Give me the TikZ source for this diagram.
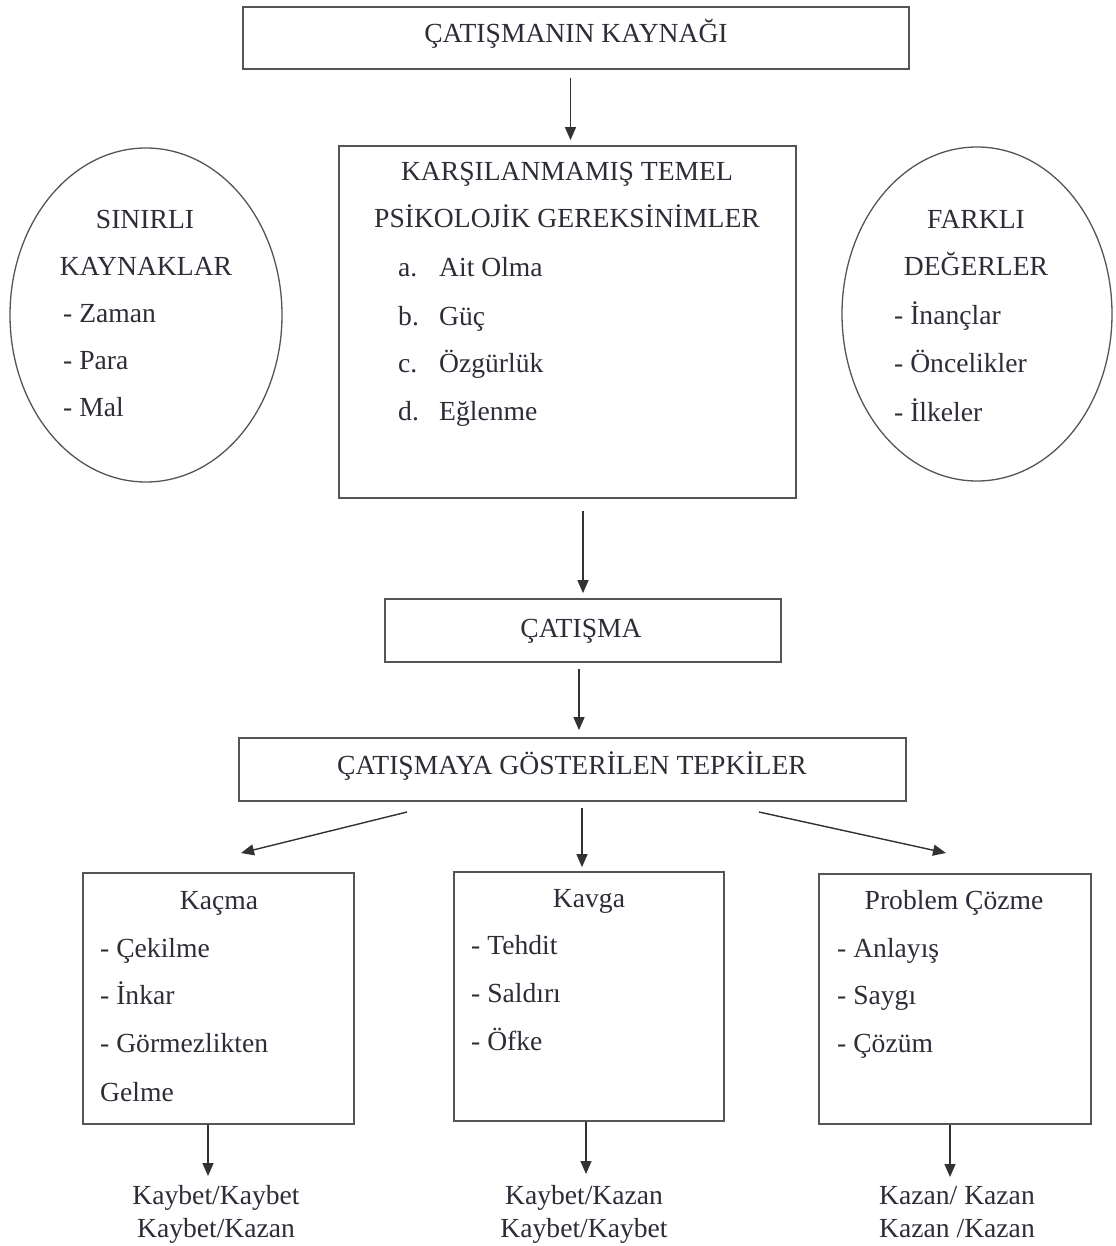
\documentclass[tikz,border=0pt]{standalone}
\usepackage{fontspec}
\setmainfont{Liberation Serif}
\usetikzlibrary{arrows.meta,shapes.geometric}
\definecolor{txtc}{RGB}{45,45,55}
\definecolor{boxc}{RGB}{85,85,85}
\definecolor{arrc}{RGB}{50,50,50}
\begin{document}
\begin{tikzpicture}[x=1pt,y=-1pt,
  box/.style={draw=boxc, line width=1.8pt, rectangle, inner sep=0pt, anchor=center},
  oval/.style={draw=boxc, line width=1.3pt, ellipse, inner sep=0pt, anchor=center},
  tx/.style={anchor=base, inner sep=0pt, text=txtc, font=\fontsize{27.6}{33}\selectfont},
  txl/.style={tx, anchor=base west},
  arr/.style={draw=arrc, line width=1.4pt, -{Triangle[length=13pt,width=11pt]}}
]
\useasboundingbox (0,0) rectangle (1115,1246);
\fill[white] (0,0) rectangle (1115,1246);

% shapes
\node[box, minimum width=666pt, minimum height=62pt] (b1) at (576,38) {};
\node[box, minimum width=457pt, minimum height=352pt] (b2) at (567.5,322) {};
\node[oval, minimum width=272pt, minimum height=334pt] (e1) at (146,315) {};
\node[oval, minimum width=270pt, minimum height=334pt] (e2) at (977,314) {};
\node[box, minimum width=396pt, minimum height=63pt] (b3) at (583,630.5) {};
\node[box, minimum width=667pt, minimum height=63pt] (b4) at (572.5,769.5) {};
\node[box, minimum width=271pt, minimum height=251pt] (k1) at (218.5,998.5) {};
\node[box, minimum width=270pt, minimum height=249pt] (k2) at (589,996.5) {};
\node[box, minimum width=272pt, minimum height=250pt] (k3) at (955,999) {};

% texts
\node[tx] (t1) at (576,43) {ÇATIŞMANIN KAYNAĞI};

\node[tx] (t2a) at (567,181) {KARŞILANMAMIŞ TEMEL};
\node[tx] (t2b) at (567,228) {PSİKOLOJİK GEREKSİNİMLER};
\node[txl] (i1a) at (398,277) {a.};
\node[txl] (i1b) at (439,277) {Ait Olma};
\node[txl] (i2a) at (398,325) {b.};
\node[txl] (i2b) at (439,325) {Güç};
\node[txl] (i3a) at (398,372) {c.};
\node[txl] (i3b) at (439,372) {Özgürlük};
\node[txl] (i4a) at (398,420) {d.};
\node[txl] (i4b) at (439,420) {Eğlenme};

\node[tx] (e1a) at (145,229) {SINIRLI};
\node[tx] (e1b) at (146,276) {KAYNAKLAR};
\node[txl] (e1c) at (63,322) {- Zaman};
\node[txl] (e1d) at (63,369) {- Para};
\node[txl] (e1e) at (63,416) {- Mal};

\node[tx] (e2a) at (976,229) {FARKLI};
\node[tx] (e2b) at (976,276) {DEĞERLER};
\node[txl] (e2c) at (894,324) {- İnançlar};
\node[txl] (e2d) at (894,372) {- Öncelikler};
\node[txl] (e2e) at (894,421) {- İlkeler};

\node[tx] (t3) at (581,637) {ÇATIŞMA};
\node[tx] (t4) at (572,774) {ÇATIŞMAYA GÖSTERİLEN TEPKİLER};

\node[tx] (k1a) at (219,909) {Kaçma};
\node[txl] (k1b) at (100,957) {- Çekilme};
\node[txl] (k1c) at (100,1004) {- İnkar};
\node[txl] (k1d) at (100,1052) {- Görmezlikten};
\node[txl] (k1e) at (100,1101) {Gelme};

\node[tx] (k2a) at (589,907) {Kavga};
\node[txl] (k2b) at (471,954) {- Tehdit};
\node[txl] (k2c) at (471,1002) {- Saldırı};
\node[txl] (k2d) at (471,1050) {- Öfke};

\node[tx] (k3a) at (954,909) {Problem Çözme};
\node[txl] (k3b) at (837,957) {- Anlayış};
\node[txl] (k3c) at (837,1004) {- Saygı};
\node[txl] (k3d) at (837,1052) {- Çözüm};

\node[tx] (r1a) at (216,1204) {Kaybet/Kaybet};
\node[tx] (r1b) at (216,1237) {Kaybet/Kazan};
\node[tx] (r2a) at (584,1204) {Kaybet/Kazan};
\node[tx] (r2b) at (584,1237) {Kaybet/Kaybet};
\node[tx] (r3a) at (957,1204) {Kazan/ Kazan};
\node[tx] (r3b) at (957,1237) {Kazan /Kazan};

% connector coordinates
\coordinate (x1) at (570.5,0);
\coordinate (x2) at (583,0);
\coordinate (x3) at (579,0);
\coordinate (x5) at (582,0);
\coordinate (x7) at (208,0);
\coordinate (x8) at (586,0);
\coordinate (x9) at (950,0);
\coordinate (s4) at (407,812);
\coordinate (d4) at (241,853);
\coordinate (s6) at (759,812);
\coordinate (d6) at (946,853);
\coordinate (d7) at (208,1176);
\coordinate (d8) at (586,1174);
\coordinate (d9) at (950,1177);

% connectors
\draw[arr, shorten <=8pt, shorten >=5pt] (b1.south -| x1) -- (b2.north -| x1);
\draw[arr, shorten <=12pt, shorten >=5pt] (b2.south -| x2) -- (b3.north -| x2);
\draw[arr, shorten <=6pt, shorten >=7pt] (b3.south -| x3) -- (b4.north -| x3);
\draw[arr] (s4) -- (d4);
\draw[arr, shorten <=6pt, shorten >=4pt] (b4.south -| x5) -- (k2.north -| x5);
\draw[arr] (s6) -- (d6);
\draw[arr] (k1.south -| x7) -- (d7);
\draw[arr] (k2.south -| x8) -- (d8);
\draw[arr] (k3.south -| x9) -- (d9);
\end{tikzpicture}
\end{document}
